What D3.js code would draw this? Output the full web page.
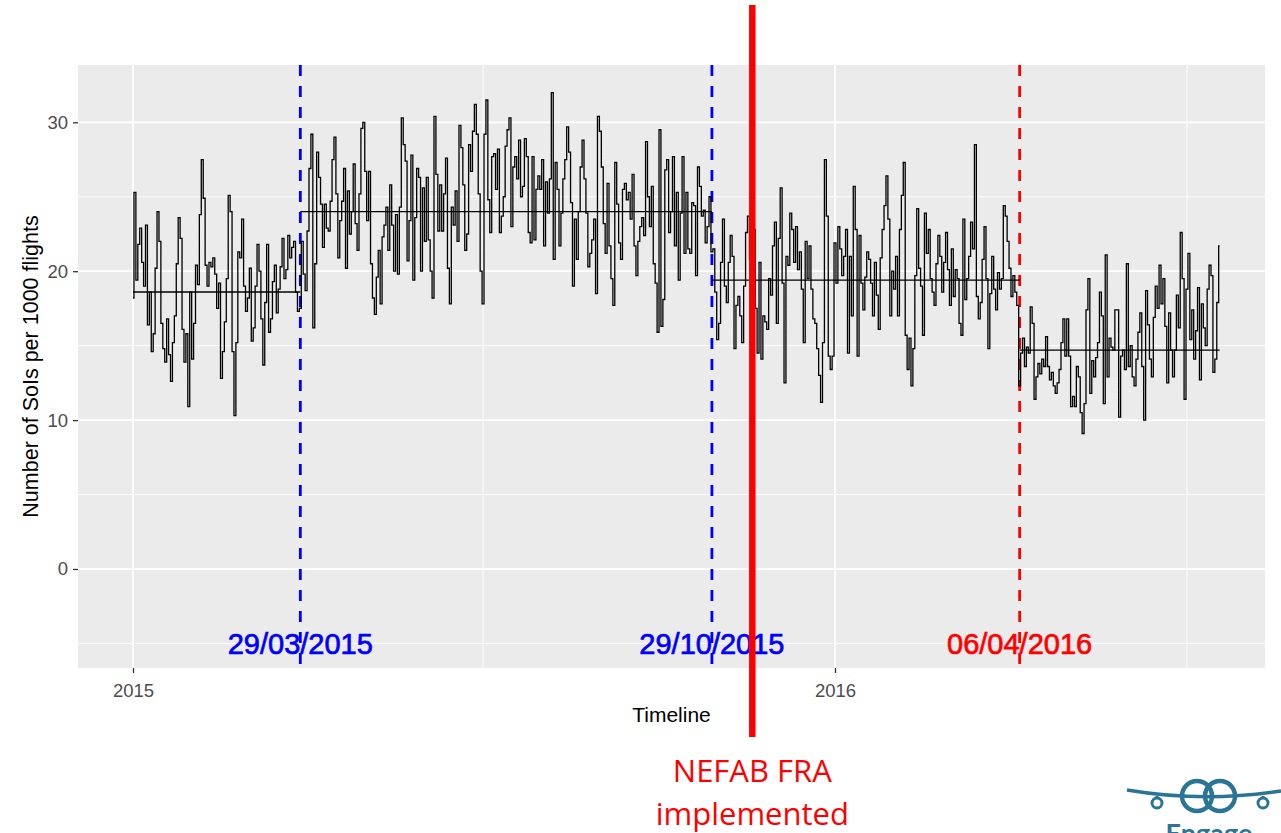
<!DOCTYPE html>
<html>
<head>
<meta charset="utf-8">
<title>SoIs per 1000 flights</title>
<script src="https://cdnjs.cloudflare.com/ajax/libs/d3/7.8.5/d3.min.js"></script>
<style>
  body { margin: 0; background: #fff; }
  svg { display: block; font-family: "Liberation Sans", Arial, sans-serif; }
</style>
</head>
<body>
<div id="chart-area"></div>
<script>
// daily SoIs per 1000 flights, one array per period between the marked dates
var periodStarts = ["2015-01-01", "2015-03-29", "2015-10-29", "2016-04-06"]

var period1 = [
  18.2, 25.3, 19.4, 21.8, 22.9, 20.6, 19.0,
  23.1, 16.4, 18.6, 14.6, 15.8, 20.2, 24.0,
  22.0, 16.5, 14.8, 13.9, 16.8, 14.4, 12.6,
  15.2, 17.0, 20.5, 23.6, 22.2, 16.1, 13.9,
  15.8, 10.9, 18.6, 14.1, 16.5, 20.4, 19.1,
  23.8, 27.5, 24.9, 20.4, 19.0, 20.6, 20.3,
  20.9, 19.8, 17.5, 19.2, 12.8, 14.6, 16.6,
  19.5, 25.1, 24.0, 14.6, 10.3, 15.2, 21.3,
  20.9, 23.5, 19.0, 17.3, 18.2, 20.2, 15.3,
  16.2, 19.0, 21.8, 20.0, 16.8, 13.7, 17.9,
  21.8, 15.9, 16.8, 19.3, 20.4, 17.2, 18.8,
  20.3, 22.2, 19.5, 20.1, 22.4, 20.9, 21.6,
  22.0, 18.6, 17.3
]

var period2 = [
  17.5, 22.0, 19.8, 18.7, 22.7, 26.9, 29.2,
  16.2, 20.5, 28.0, 26.3, 24.5, 21.6, 24.5,
  22.9, 22.7, 24.7, 27.5, 29.0, 25.2, 20.9,
  23.4, 24.7, 26.9, 20.2, 25.4, 22.5, 24.0,
  27.2, 23.2, 21.4, 25.2, 29.6, 30.0, 26.7,
  23.4, 26.7, 20.5, 18.2, 17.1, 19.6, 21.4,
  17.8, 22.3, 23.1, 24.3, 21.4, 25.8, 23.1,
  20.0, 23.8, 19.8, 24.3, 30.3, 28.5, 27.4,
  20.7, 23.4, 27.8, 19.4, 23.6, 26.9, 26.3,
  20.0, 25.6, 22.0, 26.3, 22.1, 20.0, 18.2,
  30.4, 26.5, 22.7, 25.8, 22.7, 25.2, 27.6,
  20.2, 17.8, 24.3, 23.1, 25.4, 22.0, 29.8,
  28.3, 25.8, 21.4, 22.5, 28.5, 26.7, 29.4,
  31.2, 29.2, 25.2, 20.0, 17.8, 29.2, 31.5,
  24.8, 22.6, 27.7, 27.9, 25.5, 28.2, 22.6,
  23.7, 25.0, 28.4, 29.5, 30.3, 23.0, 27.0,
  27.7, 26.2, 28.8, 25.0, 25.7, 28.9, 27.7,
  22.6, 21.9, 27.7, 22.1, 25.5, 26.4, 25.5,
  27.5, 21.7, 26.0, 23.9, 26.2, 32.0, 20.8,
  27.3, 25.5, 21.7, 23.9, 26.2, 27.5, 29.7,
  28.0, 24.6, 19.0, 23.5, 20.8, 24.0, 27.0,
  28.8, 26.2, 23.9, 20.3, 21.2, 22.1, 23.5,
  18.5, 30.4, 29.4, 27.0, 23.2, 21.2, 25.9,
  21.7, 19.5, 17.7, 27.3, 24.5, 21.9, 20.8,
  25.5, 25.9, 24.8, 25.3, 23.5, 26.5, 21.7,
  19.7, 22.0, 23.0, 23.6, 22.4, 28.7, 25.0,
  23.0, 25.7, 20.5, 19.2, 15.9, 29.5, 16.3,
  18.1, 26.8, 27.5, 22.6, 24.0, 27.7, 21.7,
  25.3, 19.4, 23.9, 27.7, 21.2, 25.3, 21.5,
  21.2, 24.6, 24.4, 19.7, 27.0, 25.7, 23.7,
  24.1, 21.9, 23.0, 25.0
]

var period3 = [
  21.3, 21.5, 18.6, 15.4, 16.5, 20.6, 23.5,
  19.0, 17.9, 20.6, 22.4, 21.0, 14.8, 17.7,
  18.3, 17.0, 15.2, 19.0, 22.6, 23.7, 20.8,
  19.2, 22.8, 17.5, 14.5, 20.6, 14.1, 17.0,
  16.6, 16.1, 19.5, 18.4, 21.7, 23.3, 16.5,
  22.2, 25.6, 19.2, 12.5, 21.0, 20.4, 23.9,
  22.8, 20.6, 23.0, 20.1, 21.3, 18.8, 15.2,
  22.0, 19.5, 21.7, 18.8, 16.8, 16.5, 14.8,
  13.0, 11.2, 15.2, 27.5, 23.7, 14.3, 13.4,
  14.3, 21.9, 19.2, 23.0, 21.5, 19.7, 21.0,
  22.8, 14.5, 21.0, 17.0, 25.7, 22.8, 14.3,
  22.4, 19.2, 17.4, 19.6, 21.3, 20.8, 19.2,
  17.0, 20.6, 18.4, 16.1, 20.9, 22.8, 24.4,
  26.4, 23.5, 17.0, 20.0, 18.8, 21.0, 17.0,
  22.8, 25.1, 27.3, 15.7, 13.4, 15.5, 12.3,
  14.8, 19.7, 24.2, 20.2, 19.0, 15.7, 23.9,
  21.2, 22.8, 19.5, 18.6, 17.7, 20.5, 22.4,
  21.0, 18.6, 20.6, 22.6, 20.1, 17.7, 21.5,
  18.3, 20.1, 19.5, 16.5, 15.7, 23.5, 18.1,
  19.5, 21.0, 23.3, 21.5, 28.5, 18.3, 16.8,
  17.9, 20.8, 23.0, 19.5, 14.8, 18.5, 21.0,
  18.8, 17.4, 19.9, 18.8, 19.5, 24.4, 23.7,
  22.0, 20.2, 18.3, 19.7, 18.6, 17.7
]

var period4 = [
  12.3, 14.5, 15.5, 13.6, 14.9, 14.5, 17.6,
  16.5, 11.4, 12.9, 13.8, 13.1, 14.1, 13.6,
  15.6, 13.6, 12.7, 13.2, 12.3, 11.8, 12.5,
  13.4, 15.2, 16.8, 14.3, 16.8, 14.3, 10.9,
  11.6, 10.9, 13.6, 12.9, 10.5, 9.1, 11.1,
  17.4, 19.5, 11.8, 14.0, 12.9, 14.2, 15.2,
  18.6, 17.0, 11.1, 21.1, 12.9, 15.5, 14.9,
  14.7, 17.4, 17.4, 10.2, 14.3, 14.7, 13.4,
  20.5, 13.6, 15.0, 12.9, 12.3, 14.1, 15.9,
  17.2, 13.6, 10.0, 18.7, 16.4, 14.1, 12.9,
  16.9, 19.0, 17.5, 20.4, 17.8, 19.5, 16.3,
  12.5, 17.2, 14.7, 12.9, 14.7, 18.4, 16.2,
  22.6, 19.5, 11.4, 18.8, 21.2, 15.4, 17.4,
  14.1, 16.0, 18.9, 12.7, 17.8, 16.2, 15.0,
  18.8, 20.4, 19.7, 13.2, 14.1, 17.9, 21.7
]

// mean level of each period (horizontal lines)
var periodMeans = [18.6, 24.0, 19.4, 14.7]

var eventDates = ["2015-03-29", "2015-10-29", "2016-04-06"]
var eventLabels = ["29/03/2015", "29/10/2015", "06/04/2016"]
var eventColors = ["#0000FF", "#0000FF", "#FF0000"]
var nefabDate = "2015-11-19"

var xTicks = ["2015-01-01", "2016-01-01"]
var xMinorTicks = ["2015-07-02", "2016-07-02"]
var yTicks = [0, 10, 20, 30]
var yMinorTicks = [-5, 5, 15, 25]

var width = 1281
var height = 833
var panel = { left: 78, right: 1265, top: 65, bottom: 668 }

var parseDate = d3.utcParse("%Y-%m-%d")

var data = []
;[period1, period2, period3, period4].forEach(function(values, p) {
  var start = parseDate(periodStarts[p])
  values.forEach(function(v, i) {
    data.push({ date: d3.utcDay.offset(start, i), value: v })
  })
})
var lastDate = data[data.length - 1].date

var means = periodMeans.map(function(m, p) {
  return {
    from: parseDate(periodStarts[p]),
    to: p < periodStarts.length - 1 ? parseDate(periodStarts[p + 1]) : lastDate,
    value: m
  }
})

var svg = d3.select("#chart-area")
  .append("svg")
  .attr("width", width)
  .attr("height", height)

var x = d3.scaleUtc()
  .domain([parseDate("2015-01-01"), parseDate("2016-01-01")])
  .range([133, 835])

var y = d3.scaleLinear()
  .domain([-6.65, 33.85])
  .range([panel.bottom, panel.top])

// panel + grid

svg.append("rect")
  .attr("x", panel.left)
  .attr("y", panel.top)
  .attr("width", panel.right - panel.left)
  .attr("height", panel.bottom - panel.top)
  .attr("fill", "#EBEBEB")

var grid = svg.append("g").attr("stroke", "#FFFFFF").attr("fill", "none")

grid.selectAll(".y-minor")
  .data(yMinorTicks)
  .enter().append("line")
  .attr("x1", panel.left).attr("x2", panel.right)
  .attr("y1", d => y(d)).attr("y2", d => y(d))
  .attr("stroke-width", 0.9)

grid.selectAll(".x-minor")
  .data(xMinorTicks)
  .enter().append("line")
  .attr("x1", d => x(parseDate(d))).attr("x2", d => x(parseDate(d)))
  .attr("y1", panel.top).attr("y2", panel.bottom)
  .attr("stroke-width", 0.9)

grid.selectAll(".y-major")
  .data(yTicks)
  .enter().append("line")
  .attr("x1", panel.left).attr("x2", panel.right)
  .attr("y1", d => y(d)).attr("y2", d => y(d))
  .attr("stroke-width", 1.8)

grid.selectAll(".x-major")
  .data(xTicks)
  .enter().append("line")
  .attr("x1", d => x(parseDate(d))).attr("x2", d => x(parseDate(d)))
  .attr("y1", panel.top).attr("y2", panel.bottom)
  .attr("stroke-width", 1.8)

// event lines

svg.selectAll(".event")
  .data(eventDates)
  .enter().append("line")
  .attr("class", "event")
  .attr("x1", d => x(parseDate(d))).attr("x2", d => x(parseDate(d)))
  .attr("y1", panel.top).attr("y2", panel.bottom)
  .attr("stroke", (d, i) => eventColors[i])
  .attr("stroke-width", 2.8)
  .attr("stroke-dasharray", "11,10")

// series (stepped daily values)

var line = d3.line()
  .x(d => x(d.date))
  .y(d => y(d.value))
  .curve(d3.curveStep)

svg.append("path")
  .datum(data)
  .attr("d", line)
  .attr("fill", "none")
  .attr("stroke", "#000000")
  .attr("stroke-width", 1.3)

svg.selectAll(".mean")
  .data(means)
  .enter().append("line")
  .attr("x1", d => x(d.from)).attr("x2", d => x(d.to))
  .attr("y1", d => y(d.value)).attr("y2", d => y(d.value))
  .attr("stroke", "#000000")
  .attr("stroke-width", 1.4)

// event labels
svg.selectAll(".event-label")
  .data(eventDates)
  .enter().append("text")
  .text((d, i) => eventLabels[i])
  .attr("x", d => x(parseDate(d)))
  .attr("y", y(-5))
  .attr("dy", "0.36em")
  .attr("text-anchor", "middle")
  .attr("font-size", "29px")
  .attr("fill", (d, i) => eventColors[i])
  .attr("stroke", (d, i) => eventColors[i])
  .attr("stroke-width", 0.7)

// axes

var yAxisCall = d3.axisLeft(y)
  .tickValues(yTicks)
  .tickSize(5)
  .tickPadding(5)

var yAxis = svg.append("g")
  .attr("transform", "translate(" + panel.left + ",0)")
  .call(yAxisCall)
yAxis.select(".domain").remove()

var xAxisCall = d3.axisBottom(x)
  .tickValues(xTicks.map(parseDate))
  .tickFormat(d3.utcFormat("%Y"))
  .tickSize(5)
  .tickPadding(11)

var xAxis = svg.append("g")
  .attr("transform", "translate(0," + panel.bottom + ")")
  .call(xAxisCall)
xAxis.select(".domain").remove()

svg.selectAll(".tick line").attr("stroke", "#333333").attr("stroke-width", 1.3)
svg.selectAll(".tick text")
  .attr("fill", "#4D4D4D")
  .attr("font-size", "18.5px")
  .attr("font-family", "Liberation Sans, Arial, sans-serif")

// axis titles

svg.append("text")
  .text("Timeline")
  .attr("x", (panel.left + panel.right) / 2)
  .attr("y", 722)
  .attr("text-anchor", "middle")
  .attr("font-size", "21px")

svg.append("text")
  .text("Number of SoIs per 1000 flights")
  .attr("transform", "translate(38," + (panel.top + panel.bottom) / 2 + ") rotate(-90)")
  .attr("text-anchor", "middle")
  .attr("font-size", "21.5px")

// NEFAB FRA marker

svg.append("line")
  .attr("x1", x(parseDate(nefabDate))).attr("x2", x(parseDate(nefabDate)))
  .attr("y1", 5).attr("y2", 737)
  .attr("stroke", "#FF0000")
  .attr("stroke-width", 6.5)

svg.append("text")
  .attr("x", x(parseDate(nefabDate)))
  .attr("text-anchor", "middle")
  .attr("font-family", "'Open Sans', Lato, sans-serif")
  .attr("font-size", "31px")
  .attr("fill", "#FF0000")
  .selectAll("tspan")
  .data(["NEFAB FRA", "implemented"])
  .enter().append("tspan")
  .attr("x", x(parseDate(nefabDate)))
  .attr("y", (d, i) => i === 0 ? 782 : 825)
  .text(d => d)

// Engage logo (bottom right, cut by the page edge as in the slide)

var logoColor = "#2A7596"
var logo = svg.append("g")
  .attr("fill", "none")
  .attr("stroke", logoColor)

logo.append("path")
  .attr("d", "M1127,790 Q1204,803 1281,791")
  .attr("stroke-width", 3.5)
logo.append("path")
  .attr("d", "M1157,796 L1157,799 M1263,796 L1263,799")
  .attr("stroke-width", 3)
logo.append("circle").attr("cx", 1157).attr("cy", 803).attr("r", 5).attr("stroke-width", 3)
logo.append("circle").attr("cx", 1263).attr("cy", 803).attr("r", 5).attr("stroke-width", 3)
logo.append("circle").attr("cx", 1197).attr("cy", 796).attr("r", 15).attr("stroke-width", 4.5)
logo.append("circle").attr("cx", 1220).attr("cy", 796).attr("r", 15).attr("stroke-width", 4.5)

svg.append("text")
  .text("Engage")
  .attr("x", 1209)
  .attr("y", 843)
  .attr("text-anchor", "middle")
  .attr("font-family", "Lato, sans-serif")
  .attr("font-weight", "bold")
  .attr("font-size", "27px")
  .attr("fill", logoColor)
</script>
</body>
</html>
